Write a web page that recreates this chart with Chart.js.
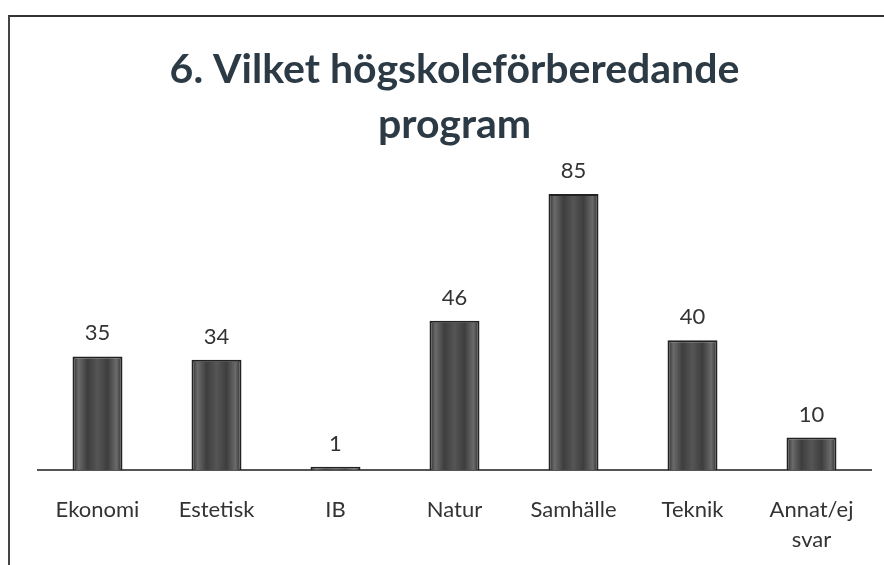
<!DOCTYPE html>
<html>
<head>
<meta charset="utf-8">
<script src="https://cdn.jsdelivr.net/npm/chart.js@4.4.1/dist/chart.umd.min.js"></script>
<style>
  body { margin: 0; background: #fff; }
  #wrap { position: relative; width: 884px; height: 565px; }
  #frame { position: absolute; left: 8px; top: 15px; right: 0; bottom: 0;
           border-top: 2px solid #333; border-left: 2px solid #444; }
  canvas { position: absolute; left: 0; top: 0; }
</style>
</head>
<body>
<div id="wrap">
  <div id="frame"></div>
  <canvas id="chart" width="884" height="565"></canvas>
</div>
<script>
const titleLines = ['6. Vilket högskoleförberedande', 'program'];
const categories = ['Ekonomi', 'Estetisk', 'IB', 'Natur', 'Samhälle', 'Teknik', ['Annat/ej', 'svar']];
const values = [35, 34, 1, 46, 85, 40, 10];

// gradient per stapel + siffror ovanför
const barStyle = {
  id: 'barStyle',
  beforeDatasetsDraw(chart) {
    const ctx = chart.ctx;
    chart.getDatasetMeta(0).data.forEach(bar => {
      const half = bar.width / 2;
      const g = ctx.createLinearGradient(bar.x - half, 0, bar.x + half, 0);
      g.addColorStop(0, '#2a2a2a');
      g.addColorStop(0.12, '#6a6a6a');
      g.addColorStop(0.3, '#3e3e3e');
      g.addColorStop(0.5, '#555');
      g.addColorStop(0.7, '#3e3e3e');
      g.addColorStop(0.88, '#6a6a6a');
      g.addColorStop(1, '#2a2a2a');
      bar.options = Object.assign({}, bar.options, { backgroundColor: g });
    });
  },
  afterDatasetsDraw(chart) {
    const ctx = chart.ctx;
    const meta = chart.getDatasetMeta(0);
    ctx.save();
    ctx.font = '22px Lato';
    ctx.fillStyle = '#333';
    ctx.textAlign = 'center';
    ctx.textBaseline = 'bottom';
    meta.data.forEach((bar, i) => {
      ctx.fillText(values[i], bar.x, bar.y - 12);
    });
    ctx.restore();
  }
};

const ctx = document.getElementById('chart').getContext('2d');
new Chart(ctx, {
  type: 'bar',
  data: {
    labels: categories,
    datasets: [{
      data: values,
      backgroundColor: '#4a4a4a',
      borderColor: '#222',
      borderWidth: 2,
      barPercentage: 0.84,
      categoryPercentage: 0.5
    }]
  },
  options: {
    responsive: false,
    animation: false,
    layout: { padding: { top: 42, left: 38, right: 13, bottom: 0 } },
    plugins: {
      legend: { display: false },
      tooltip: { enabled: false },
      title: {
        display: true,
        text: titleLines,
        color: '#2b3a44',
        font: { family: 'Lato', size: 41, weight: 'bold', lineHeight: 1.34 },
        padding: { top: 0, bottom: 0 }
      }
    },
    scales: {
      y: { display: false, min: 0, max: 98 },
      x: {
        afterFit(scale) { scale.height = 95; },
        grid: { display: false, drawTicks: false },
        border: { display: true, color: '#555', width: 2 },
        ticks: {
          color: '#333',
          font: { family: 'Lato', size: 22, lineHeight: 1.35 },
          padding: 25,
          maxRotation: 0
        }
      }
    }
  },
  plugins: [barStyle]
});
</script>
</body>
</html>
